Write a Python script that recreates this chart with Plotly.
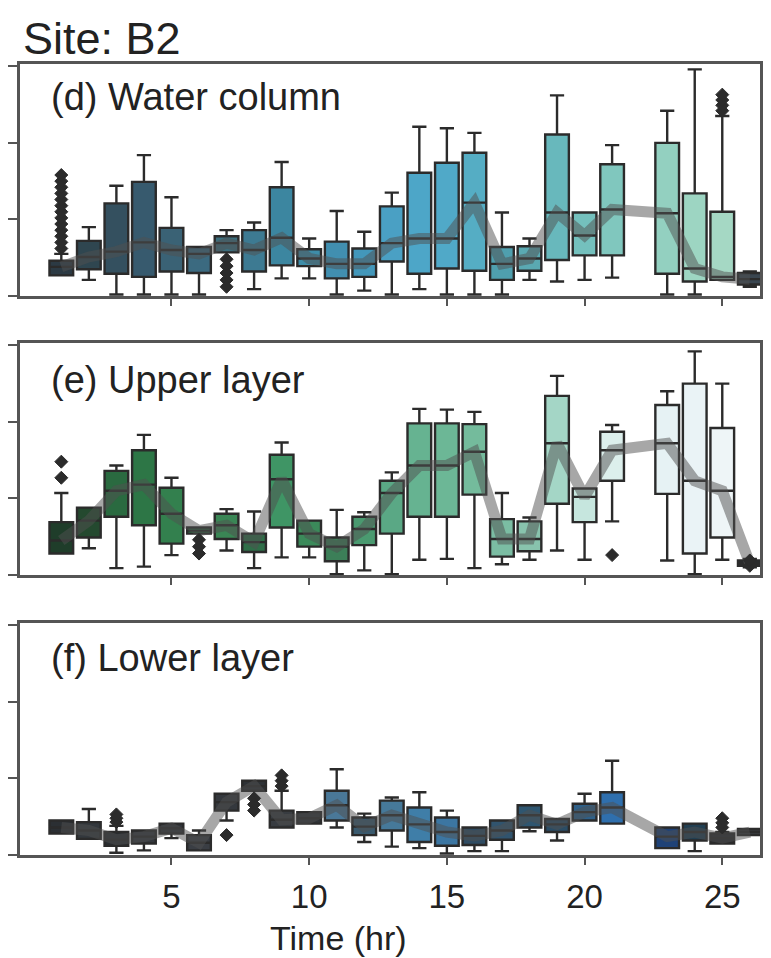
import plotly.graph_objects as go

# ---------------- data ----------------
hours = [1, 2, 3, 4, 5, 6, 7, 8, 9, 10, 11, 12, 13, 14, 15, 16, 17, 18, 19, 20, 21, 23, 24, 25, 26]

# (d) Water column
d_lo  = [0.27, 0.21, 0.02, 0.02, 0.02, 0.02, 0.57, 0.09, 0.23, 0.23, 0.02, 0.07, 0.02, 0.09, 0.02, 0.02, 0.02, 0.21, 0.19, 0.21, 0.24, 0.02, 0.02, 0.21, 0.12]
d_q1  = [0.27, 0.35, 0.29, 0.25, 0.32, 0.30, 0.57, 0.32, 0.40, 0.39, 0.23, 0.25, 0.45, 0.29, 0.36, 0.33, 0.21, 0.33, 0.47, 0.53, 0.53, 0.29, 0.19, 0.21, 0.15]
d_med = [0.38, 0.51, 0.58, 0.70, 0.60, 0.55, 0.69, 0.60, 0.76, 0.49, 0.42, 0.42, 0.69, 0.75, 0.75, 1.22, 0.42, 0.49, 1.09, 0.79, 1.13, 1.08, 0.36, 0.25, 0.22]
d_q3  = [0.46, 0.72, 1.21, 1.49, 0.89, 0.64, 0.78, 0.86, 1.42, 0.61, 0.71, 0.62, 1.17, 1.61, 1.74, 1.87, 0.64, 0.65, 2.11, 1.09, 1.72, 2.00, 1.34, 1.10, 0.30]
d_hi  = [0.55, 0.90, 1.44, 1.84, 1.29, 0.64, 0.86, 0.96, 1.75, 0.75, 1.11, 0.84, 1.35, 2.21, 2.19, 2.13, 1.09, 0.75, 2.62, 1.09, 1.97, 2.42, 2.96, 2.35, 0.32]
d_out_x = [1, 1, 1, 1, 1, 1, 1, 1, 1, 1, 1, 1, 1, 7, 7, 7, 7, 7, 25, 25, 25, 25]
d_out_y = [0.62, 0.70, 0.78, 0.86, 0.94, 1.02, 1.10, 1.18, 1.26, 1.34, 1.42, 1.50, 1.58, 0.48, 0.39, 0.30, 0.21, 0.12, 2.42, 2.49, 2.56, 2.63]

# (e) Upper layer
e_lo  = [0.28, 0.35, 0.09, 0.11, 0.26, 0.54, 0.32, 0.09, 0.23, 0.23, 0.01, 0.06, 0.01, 0.20, 0.21, 0.09, 0.14, 0.20, 0.32, 0.20, 0.70, 0.19, 0.01, 0.20, 0.10]
e_q1  = [0.28, 0.49, 0.76, 0.65, 0.41, 0.54, 0.47, 0.30, 0.62, 0.37, 0.18, 0.39, 0.54, 0.76, 0.76, 1.05, 0.24, 0.31, 0.93, 0.69, 1.23, 1.06, 0.28, 0.49, 0.12]
e_med = [0.45, 0.71, 1.10, 1.18, 0.80, 0.58, 0.65, 0.43, 1.25, 0.54, 0.37, 0.60, 1.07, 1.43, 1.43, 1.61, 0.47, 0.47, 1.72, 1.02, 1.63, 1.72, 1.23, 1.10, 0.15]
e_q3  = [0.69, 0.88, 1.36, 1.63, 1.14, 0.62, 0.80, 0.54, 1.57, 0.71, 0.49, 0.76, 1.23, 1.98, 1.98, 1.97, 0.73, 0.70, 2.34, 1.13, 1.87, 2.22, 2.50, 1.92, 0.19]
e_hi  = [1.07, 0.88, 1.43, 1.83, 1.27, 0.62, 0.86, 0.83, 1.73, 0.71, 0.85, 0.82, 1.34, 2.17, 2.16, 2.13, 1.07, 0.75, 2.60, 1.13, 1.96, 2.40, 2.92, 2.50, 0.21]
e_out_x = [1, 1, 6, 6, 6, 21, 26, 26]
e_out_y = [1.27, 1.48, 0.46, 0.37, 0.28, 0.26, 0.12, 0.19]

# (f) Lower layer
f_lo  = [0.28, 0.21, 0.03, 0.06, 0.22, 0.06, 0.45, 0.84, 0.36, 0.41, 0.36, 0.17, 0.11, 0.09, 0.02, 0.05, 0.05, 0.31, 0.19, 0.45, 0.41, 0.09, 0.05, 0.15, 0.26]
f_q1  = [0.28, 0.21, 0.12, 0.15, 0.28, 0.06, 0.58, 0.84, 0.36, 0.41, 0.45, 0.26, 0.32, 0.17, 0.12, 0.13, 0.20, 0.36, 0.30, 0.45, 0.41, 0.09, 0.19, 0.15, 0.26]
f_med = [0.36, 0.32, 0.20, 0.24, 0.35, 0.16, 0.69, 0.90, 0.46, 0.48, 0.65, 0.37, 0.52, 0.40, 0.30, 0.25, 0.32, 0.52, 0.40, 0.56, 0.62, 0.24, 0.30, 0.22, 0.30]
f_q3  = [0.45, 0.43, 0.30, 0.32, 0.41, 0.26, 0.80, 0.97, 0.58, 0.56, 0.84, 0.49, 0.71, 0.62, 0.49, 0.36, 0.45, 0.65, 0.47, 0.67, 0.82, 0.36, 0.41, 0.28, 0.34]
f_hi  = [0.45, 0.60, 0.38, 0.32, 0.41, 0.32, 0.80, 0.97, 0.84, 0.56, 1.12, 0.54, 0.75, 0.82, 0.58, 0.36, 0.45, 0.65, 0.47, 0.80, 1.23, 0.36, 0.41, 0.30, 0.34]
f_out_x = [3, 3, 3, 7, 8, 8, 8, 9, 9, 9, 25, 25, 25]
f_out_y = [0.43, 0.48, 0.53, 0.26, 0.74, 0.66, 0.58, 0.90, 0.97, 1.04, 0.36, 0.42, 0.48]

x_ticks = [5, 10, 15, 20, 25]
panel_labels = ["(d) Water column", "(e) Upper layer", "(f) Lower layer"]

# ---------------- styles ----------------
d_colors = ["#2c3a44", "#2f4650", "#34505f", "#375a6e", "#3a6275", "#3b6a80", "#3c6f7e", "#3d7a92",
            "#3c86a0", "#3e8da8", "#418fb0", "#4397ba", "#4aa0c4", "#4da6c8", "#50a9c8", "#55adc4",
            "#4f9fae", "#5aa9b2", "#68b8bc", "#74c0bd", "#80c7be", "#93d0c0", "#9dd5c2", "#a5d8c4", "#3a4650"]
e_colors = ["#1f3d2a", "#24492f", "#2a6a40", "#2d7646", "#33804e", "#35824f", "#3a8655", "#2f6e48",
            "#3f9565", "#3b8a5a", "#3c7f58", "#4a9a70", "#5aa885", "#66b391", "#6cb796", "#74bb9c",
            "#7bbda3", "#88c3ad", "#a4d6c6", "#c6e6de", "#dcefec", "#e6f2f4", "#eaf3f6", "#eef5f7", "#2a2e30"]
f_colors = ["#2b2f33", "#33383d", "#2a2e32", "#35393e", "#303439", "#3a3e44", "#34383d", "#2e3236",
            "#383c41", "#303438", "#4a7898", "#3a5a6e", "#46799a", "#3f7ea8", "#3c76a2", "#2f4c63",
            "#31546e", "#2f5670", "#2b4d66", "#2f6088", "#2f6fad", "#1f4277", "#213f52", "#2a2d30", "#3a3d40"]

EDGE = "#2b2b2b"
AX = "#555555"
FONT = "Liberation Sans, Arial, sans-serif"

panels = [
    ("x", "y", d_lo, d_q1, d_med, d_q3, d_hi, d_out_x, d_out_y, d_colors),
    ("x2", "y2", e_lo, e_q1, e_med, e_q3, e_hi, e_out_x, e_out_y, e_colors),
    ("x3", "y3", f_lo, f_q1, f_med, f_q3, f_hi, f_out_x, f_out_y, f_colors),
]

fig = go.Figure()
for xa, ya, lo, q1, med, q3, hi, ox, oy, cols in panels:
    for i, h in enumerate(hours):
        fig.add_trace(go.Box(
            x=[h], q1=[q1[i]], median=[med[i]], q3=[q3[i]],
            lowerfence=[lo[i]], upperfence=[hi[i]],
            fillcolor=cols[i], line=dict(color=EDGE, width=2.4),
            width=0.86, whiskerwidth=0.6, boxpoints=False,
            xaxis=xa, yaxis=ya, showlegend=False, hoverinfo="skip"))
    fig.add_trace(go.Scatter(
        x=hours, y=med, mode="lines",
        line=dict(color="rgba(80,80,80,0.5)", width=11),
        xaxis=xa, yaxis=ya, showlegend=False, hoverinfo="skip"))
    fig.add_trace(go.Scatter(
        x=ox, y=oy, mode="markers",
        marker=dict(symbol="diamond", size=10, color=EDGE, line=dict(color=EDGE, width=1)),
        xaxis=xa, yaxis=ya, showlegend=False, hoverinfo="skip"))

W, H = 771, 958
ML, MR, MT, MB = 20, 8, 64, 103
PH = H - MT - MB
PW = W - ML - MR

def py(pix):
    return (H - MB - pix) / PH

def px(pix):
    return (pix - ML) / PW

domains = [(py(296), 1.0), (py(575), py(343)), (0.0, py(623))]

layout = dict(
    width=W, height=H,
    margin=dict(l=ML, r=MR, t=MT, b=MB),
    paper_bgcolor="white", plot_bgcolor="white",
    boxmode="overlay", showlegend=False,
    font=dict(family=FONT, color="#222222"),
)
for k, (dom, xa, ya) in enumerate(zip(domains, ["xaxis", "xaxis2", "xaxis3"], ["yaxis", "yaxis2", "yaxis3"])):
    anchor_y = "y" if k == 0 else f"y{k+1}"
    anchor_x = "x" if k == 0 else f"x{k+1}"
    layout[xa] = dict(
        domain=[0, 1], anchor=anchor_y, range=[-0.5, 26.37],
        tickmode="array", tickvals=x_ticks, ticktext=[str(t) for t in x_ticks],
        showticklabels=(k == 2), ticks="outside", ticklen=7, tickwidth=1.5, tickcolor=AX,
        ticklabelstandoff=4,
        showline=True, mirror=True, linecolor=AX, linewidth=2.5,
        showgrid=False, zeroline=False,
        tickfont=dict(size=33, family=FONT, color="#222222"),
    )
    layout[ya] = dict(
        domain=list(dom), anchor=anchor_x, range=[0, 3.03],
        tickmode="array", tickvals=[0, 1, 2, 3], showticklabels=False,
        ticks="outside", ticklen=9, tickwidth=1.5, tickcolor=AX,
        showline=True, mirror=True, linecolor=AX, linewidth=2.5,
        showgrid=False, zeroline=False,
    )

annotations = [
    dict(text="Site: B2", x=px(21), y=py(38), xref="paper", yref="paper",
         xanchor="left", yanchor="middle", showarrow=False,
         font=dict(size=45, family=FONT, color="#222222")),
    dict(text="Time (hr)", x=px(340), y=py(938), xref="paper", yref="paper",
         xanchor="center", yanchor="middle", showarrow=False,
         font=dict(size=34, family=FONT, color="#222222")),
]
for lab, ycen in zip(panel_labels, [97, 380, 658]):
    annotations.append(dict(text=lab, x=px(49), y=py(ycen), xref="paper", yref="paper",
                            xanchor="left", yanchor="middle", showarrow=False,
                            font=dict(size=38, family=FONT, color="#222222")))
layout["annotations"] = annotations

fig.update_layout(**layout)
fig.write_html("out.html")
